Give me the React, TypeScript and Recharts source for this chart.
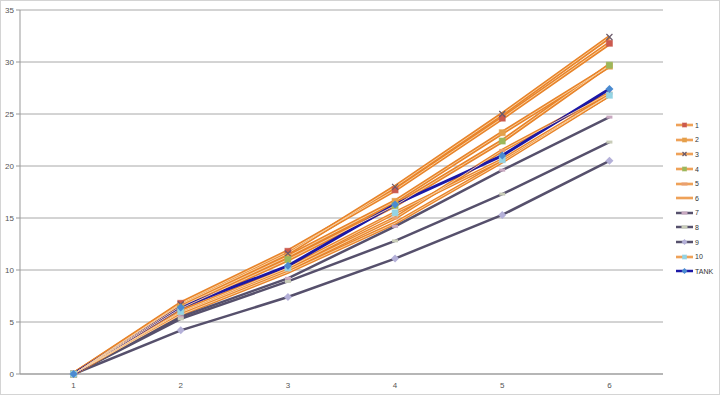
import React from 'react'
import { LineChart, Line, XAxis, YAxis, CartesianGrid } from 'recharts'

const categories = [1, 2, 3, 4, 5, 6]
const yTicks = [0, 5, 10, 15, 20, 25, 30, 35]

const s1 = [0, 6.8, 11.8, 17.7, 24.6, 31.8]
const s2 = [0, 6.5, 11.3, 16.6, 23.2, 29.6]
const s3 = [0, 6.7, 11.6, 18.0, 25.0, 32.4]
const s4 = [0, 6.3, 11.0, 16.2, 22.4, 29.7]
const s5 = [0, 5.9, 10.0, 15.0, 21.5, 27.0]
const s6 = [0, 5.7, 9.8, 14.5, 20.4, 26.8]
const s7 = [0, 5.5, 9.2, 14.2, 19.6, 24.7]
const s8 = [0, 5.3, 8.9, 12.8, 17.3, 22.3]
const s9 = [0, 4.2, 7.4, 11.1, 15.3, 20.5]
const s10 = [0, 6.0, 10.2, 15.5, 20.6, 26.8]
const tank = [0, 6.4, 10.4, 16.3, 21.0, 27.4]

const ORANGE = '#e8842a'
const ORANGE_LIGHT = '#f9cf9f'
const SLATE = '#56506c'
const BLUE = '#1c18a6'

type Series = {
  key: string
  name: string
  values: number[]
  color: string
  inner?: string
  width: number
  marker: 'square' | 'x' | 'diamond' | 'dash' | 'none'
  markerColor: string
}

const series: Series[] = [
  { key: 's1', name: '1', values: s1, color: ORANGE, inner: ORANGE_LIGHT, width: 4, marker: 'square', markerColor: '#cc5a4e' },
  { key: 's2', name: '2', values: s2, color: ORANGE, inner: ORANGE_LIGHT, width: 4, marker: 'square', markerColor: '#e4a04a' },
  { key: 's3', name: '3', values: s3, color: ORANGE, inner: ORANGE_LIGHT, width: 4, marker: 'x', markerColor: '#6a5a6a' },
  { key: 's4', name: '4', values: s4, color: ORANGE, inner: ORANGE_LIGHT, width: 4, marker: 'square', markerColor: '#9cb85c' },
  { key: 's5', name: '5', values: s5, color: ORANGE, inner: ORANGE_LIGHT, width: 3.5, marker: 'dash', markerColor: '#e9a070' },
  { key: 's6', name: '6', values: s6, color: ORANGE, inner: ORANGE_LIGHT, width: 3.5, marker: 'none', markerColor: ORANGE },
  { key: 's7', name: '7', values: s7, color: SLATE, width: 2.5, marker: 'dash', markerColor: '#c8a8c0' },
  { key: 's8', name: '8', values: s8, color: SLATE, width: 2.5, marker: 'dash', markerColor: '#c8ccb8' },
  { key: 's9', name: '9', values: s9, color: SLATE, width: 2.5, marker: 'diamond', markerColor: '#b4b0d8' },
  { key: 's10', name: '10', values: s10, color: ORANGE, inner: ORANGE_LIGHT, width: 3.5, marker: 'square', markerColor: '#94d4e4' },
  { key: 'tank', name: 'TANK', values: tank, color: BLUE, width: 3, marker: 'diamond', markerColor: '#4a8ad0' },
]

const data = categories.map((c, i) => {
  const row: Record<string, number> = { x: c }
  series.forEach((s) => {
    row[s.key] = s.values[i]
  })
  return row
})

function Marker({ cx, cy, kind, color, size = 3 }: { cx: number; cy: number; kind: string; color: string; size?: number }) {
  if (kind === 'square') {
    return <rect x={cx - size} y={cy - size} width={size * 2} height={size * 2} fill={color} stroke={color} strokeOpacity={0.6} />
  }
  if (kind === 'diamond') {
    return (
      <polygon
        points={`${cx},${cy - size - 1} ${cx + size + 1},${cy} ${cx},${cy + size + 1} ${cx - size - 1},${cy}`}
        fill={color}
      />
    )
  }
  if (kind === 'x') {
    return (
      <g stroke={color} strokeWidth={1.2}>
        <line x1={cx - size} y1={cy - size} x2={cx + size} y2={cy + size} />
        <line x1={cx - size} y1={cy + size} x2={cx + size} y2={cy - size} />
      </g>
    )
  }
  if (kind === 'dash') {
    return <rect x={cx - 3} y={cy - 1.5} width={6} height={3} fill={color} />
  }
  return <g />
}

function makeDot(s: Series) {
  return (props: any) => {
    const { cx, cy, index } = props
    if (cx == null || cy == null) return <g key={`${s.key}-${index}`} />
    return (
      <g key={`${s.key}-${index}`}>
        <Marker cx={cx} cy={cy} kind={s.marker} color={s.markerColor} />
      </g>
    )
  }
}

const tickStyle = { fontSize: 8, fill: '#555', fontFamily: 'Liberation Sans, Arial, sans-serif' }

function LegendBox() {
  return (
    <div
      style={{
        position: 'absolute',
        left: 674,
        top: 117,
        fontFamily: 'Liberation Sans, Arial, sans-serif',
        fontSize: 7,
        color: '#333',
      }}
    >
      {series.map((s) => (
        <div key={s.key} style={{ display: 'flex', alignItems: 'center', height: 14.6 }}>
          <svg width={19} height={10}>
            <line x1={1} y1={5} x2={18} y2={5} stroke={s.color} strokeWidth={2.5} />
            {s.inner && <line x1={1} y1={5} x2={18} y2={5} stroke={s.inner} strokeWidth={0.8} />}
            <Marker cx={9.5} cy={5} kind={s.marker} color={s.markerColor} size={2} />
          </svg>
          <span style={{ marginLeft: 1 }}>{s.name}</span>
        </div>
      ))}
    </div>
  )
}

export default function App() {
  return (
    <div
      style={{
        position: 'absolute',
        left: 0,
        top: 0,
        width: 720,
        height: 395,
        background: '#fff',
        boxSizing: 'border-box',
        border: '1px solid #d4d4d4',
      }}
    >
      <LineChart width={718} height={393} data={data} margin={{ top: 9, right: 56, bottom: 0, left: 0 }}>
        <CartesianGrid vertical={false} stroke="#a8a8a8" strokeWidth={1} />
        <XAxis
          dataKey="x"
          type="number"
          domain={[0.5, 6.5]}
          ticks={categories}
          tick={tickStyle}
          tickLine={false}
          axisLine={{ stroke: '#999' }}
          height={20}
          allowDataOverflow
        />
        <YAxis
          domain={[0, 35]}
          ticks={yTicks}
          tick={tickStyle}
          tickSize={4}
          tickLine={{ stroke: '#999' }}
          axisLine={{ stroke: '#999' }}
          width={19}
          interval={0}
        />
        {series.map((s) => (
          <Line
            key={s.key}
            dataKey={s.key}
            stroke={s.color}
            strokeWidth={s.width}
            dot={false}
            activeDot={false}
            isAnimationActive={false}
            type="linear"
          />
        ))}
        {series
          .filter((s) => s.inner)
          .map((s) => (
            <Line
              key={`${s.key}-inner`}
              dataKey={s.key}
              stroke={s.inner}
              strokeWidth={1}
              dot={false}
              activeDot={false}
              isAnimationActive={false}
              legendType="none"
              type="linear"
            />
          ))}
        {series.map((s) => (
          <Line
            key={`${s.key}-dots`}
            dataKey={s.key}
            stroke="none"
            dot={makeDot(s)}
            activeDot={false}
            isAnimationActive={false}
            legendType="none"
            type="linear"
          />
        ))}
      </LineChart>
      <LegendBox />
    </div>
  )
}
